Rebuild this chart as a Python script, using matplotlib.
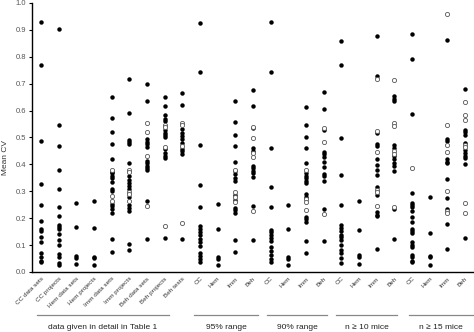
import numpy as np
from matplotlib import pyplot as plt
from matplotlib import transforms

plt.rcParams['font.family'] = ['Liberation Sans', 'DejaVu Sans']

labels = ['CC data sets', 'CC projects', 'Hem data sets', 'Hem projects',
          'Imm data sets', 'Imm projects', 'Beh data sets', 'Beh projects',
          'Beh tests',
          'CC', 'Hem', 'Imm', 'Beh',
          'CC', 'Hem', 'Imm', 'Beh',
          'CC', 'Hem', 'Imm', 'Beh',
          'CC', 'Hem', 'Imm', 'Beh']

group_names = ['data given in detail in Table 1', '95% range', '90% range',
               'n \u2265 10 mice', 'n \u2265 15 mice']

# data given in detail in Table 1
cc_sets = [0.929, 0.768, 0.486, 0.328, 0.250, 0.188, 0.159, 0.151, 0.128,
           0.113, 0.072, 0.055, 0.041, 0.035]
cc_projects = [0.905, 0.545, 0.468, 0.380, 0.307, 0.243, 0.208, 0.176, 0.167,
               0.159, 0.140, 0.120, 0.099, 0.068, 0.057, 0.032, 0.025]
hem_sets = [0.258, 0.167, 0.059, 0.053, 0.029]
hem_projects = [0.263, 0.164, 0.056, 0.050, 0.025]
imm_sets = [0.651, 0.574, 0.522, 0.476, 0.419, 0.372, 0.366, 0.358, 0.349,
            0.333, 0.310, 0.301, 0.254, 0.245, 0.235, 0.218, 0.124, 0.074]
imm_sets_open = [0.380, 0.284, 0.263]
imm_projects = [0.716, 0.592, 0.491, 0.483, 0.476, 0.405, 0.358, 0.342, 0.331,
                0.321, 0.309, 0.278, 0.250, 0.238, 0.228, 0.103, 0.081]
imm_projects_open = [0.379, 0.372, 0.299, 0.289, 0.263]
beh_sets = [0.699, 0.637, 0.494, 0.484, 0.476, 0.466, 0.411, 0.404, 0.395,
            0.387, 0.380, 0.265, 0.124]
beh_sets_open = [0.554, 0.520, 0.432, 0.245]
beh_projects = [0.651, 0.616, 0.584, 0.569, 0.560, 0.528, 0.518, 0.509, 0.501,
                0.457, 0.441, 0.432, 0.425, 0.126]
beh_projects_open = [0.545, 0.538, 0.466, 0.171]
beh_tests = [0.666, 0.622, 0.530, 0.518, 0.505, 0.495, 0.480, 0.458, 0.448,
             0.438, 0.124]
beh_tests_open = [0.554, 0.545, 0.468, 0.183]

# 95% range
cc_95 = [0.927, 0.743, 0.471, 0.322, 0.243, 0.171, 0.159, 0.148, 0.136, 0.124,
         0.112, 0.098, 0.072, 0.061, 0.049, 0.037]
hem_95 = [0.253, 0.161, 0.057, 0.048, 0.026]
imm_95 = [0.635, 0.556, 0.509, 0.470, 0.409, 0.374, 0.363, 0.351, 0.337, 0.286,
          0.268, 0.239, 0.229, 0.218, 0.119, 0.073]
imm_95_open = [0.380, 0.296, 0.278, 0.261]
beh_95 = [0.677, 0.618, 0.534, 0.461, 0.451, 0.395, 0.386, 0.375, 0.366, 0.354,
          0.246, 0.119]
beh_95_open = [0.540, 0.497, 0.441, 0.429, 0.228]

# 90% range
cc_90 = [0.929, 0.743, 0.460, 0.317, 0.240, 0.156, 0.148, 0.138, 0.126, 0.114,
         0.094, 0.077, 0.062, 0.049, 0.035]
hem_90 = [0.249, 0.159, 0.057, 0.049, 0.026]
imm_90 = [0.612, 0.548, 0.503, 0.462, 0.404, 0.368, 0.358, 0.348, 0.339, 0.331,
          0.290, 0.280, 0.206, 0.196, 0.186, 0.116, 0.069]
imm_90_open = [0.379, 0.271, 0.261, 0.230]
beh_90 = [0.669, 0.606, 0.527, 0.446, 0.438, 0.429, 0.410, 0.391, 0.364, 0.357,
          0.337, 0.235, 0.115]
beh_90_open = [0.535, 0.483, 0.216]

# n >= 10 mice
cc_10 = [0.860, 0.768, 0.497, 0.362, 0.250, 0.175, 0.164, 0.151, 0.139, 0.129,
         0.118, 0.099, 0.082, 0.069, 0.053, 0.032]
hem_10 = [0.263, 0.156, 0.063, 0.057, 0.029]
imm_10 = [0.877, 0.729, 0.518, 0.476, 0.468, 0.420, 0.398, 0.379, 0.359, 0.315,
          0.286, 0.223, 0.213, 0.208, 0.084]
imm_10_open = [0.719, 0.523, 0.447, 0.305, 0.297, 0.246]
beh_10 = [0.653, 0.642, 0.635, 0.471, 0.461, 0.431, 0.421, 0.404, 0.394, 0.377,
          0.235, 0.122]
beh_10_open = [0.713, 0.555, 0.542, 0.451, 0.440, 0.240]

# n >= 15 mice
cc_15 = [0.886, 0.791, 0.587, 0.293, 0.258, 0.250, 0.243, 0.228, 0.206, 0.187,
         0.159, 0.151, 0.146, 0.112, 0.100, 0.092, 0.063, 0.055, 0.042, 0.035]
cc_15_open = [0.388]
hem_15 = [0.278, 0.146, 0.061, 0.055, 0.027]
imm_15 = [0.861, 0.496, 0.488, 0.419, 0.410, 0.404, 0.347, 0.273, 0.233, 0.178,
          0.084]
imm_15_open = [0.959, 0.548, 0.473, 0.446, 0.300, 0.226, 0.218]
beh_15 = [0.680, 0.529, 0.522, 0.509, 0.481, 0.454, 0.441, 0.432, 0.423, 0.400,
          0.126]
beh_15_open = [0.633, 0.583, 0.565, 0.473, 0.465, 0.255, 0.218]

filled = [cc_sets, cc_projects, hem_sets, hem_projects, imm_sets, imm_projects,
          beh_sets, beh_projects, beh_tests,
          cc_95, hem_95, imm_95, beh_95,
          cc_90, hem_90, imm_90, beh_90,
          cc_10, hem_10, imm_10, beh_10,
          cc_15, hem_15, imm_15, beh_15]
hollow = {4: imm_sets_open, 5: imm_projects_open, 6: beh_sets_open,
          7: beh_projects_open, 8: beh_tests_open,
          11: imm_95_open, 12: beh_95_open,
          15: imm_90_open, 16: beh_90_open,
          19: imm_10_open, 20: beh_10_open,
          21: cc_15_open, 23: imm_15_open, 24: beh_15_open}

# group line extents (in category units) for the brackets under the labels
group_spans = [(-0.23, 7.24), (8.66, 12.28), (12.79, 16.19),
               (16.70, 20.15), (20.83, 24.45)]

fig = plt.figure(figsize=(4.74, 3.32), dpi=100)
ax = fig.add_axes([0.0675, 0.181, 0.9325, 0.81])

for i, vals in enumerate(filled):
    ax.plot(np.full(len(vals), i), vals, 'o', color='black',
            markersize=3.2, markeredgewidth=0, zorder=3)
for i, vals in hollow.items():
    ax.plot(np.full(len(vals), i), vals, 'o', markerfacecolor='white',
            markeredgecolor='#555555', markersize=3.0, markeredgewidth=0.6,
            zorder=4)

ax.set_xlim(-0.5, 24.5)
ax.set_ylim(0, 1.0)
ax.set_yticks(np.arange(0, 1.01, 0.1))
ax.set_yticklabels([f'{v:.1f}' for v in np.arange(0, 1.01, 0.1)])
ax.set_xticks(range(len(labels)))
ax.set_xticklabels(labels, rotation=45, ha='right', rotation_mode='anchor',
                   fontsize=4.6, color='#333333')
ax.tick_params(axis='x', length=0, pad=3)
ax.tick_params(axis='y', labelsize=5.5, labelcolor='#555555', length=2,
               width=0.8, pad=2)
for s in ['top', 'right']:
    ax.spines[s].set_visible(False)
ax.spines['left'].set_linewidth(1.0)
ax.spines['bottom'].set_linewidth(1.0)

fig.text(0.012, 0.527, 'Mean CV', rotation=90, fontsize=6, color='#333333',
         ha='center', va='center')

trans = transforms.blended_transform_factory(ax.transData, fig.transFigure)
for (x0, x1), name in zip(group_spans, group_names):
    ax.plot([x0, x1], [0.051, 0.051], color='#888888', linewidth=0.9,
            transform=trans, clip_on=False)
    ax.text((x0 + x1) / 2, 0.015, name, transform=trans, ha='center',
            va='center', fontsize=6, color='#222222')

plt.savefig('out.png', dpi=100)
